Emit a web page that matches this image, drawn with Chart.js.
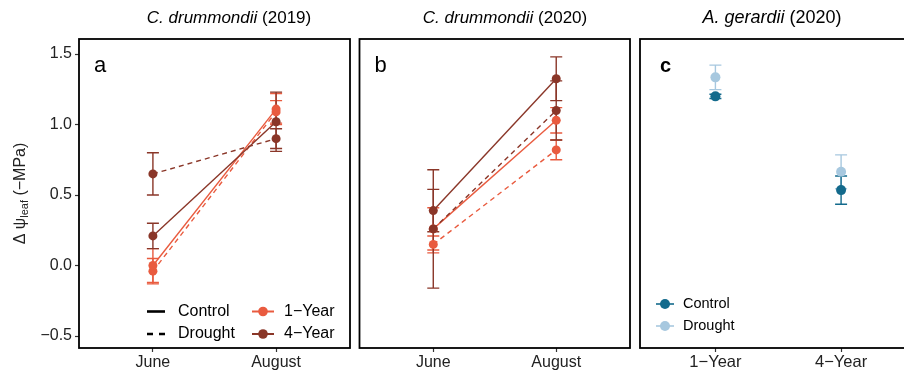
<!DOCTYPE html>
<html><head><meta charset="utf-8">
<script src="https://cdn.jsdelivr.net/npm/chart.js@4"></script>
<style>
html,body{margin:0;padding:0;background:#fff;overflow:hidden;width:904px;height:371px;}
canvas.p{position:absolute;top:0;}
</style></head><body>
<canvas id="ca" class="p" style="left:0px" width="355" height="371"></canvas>
<canvas id="cb" class="p" style="left:355px" width="280" height="371"></canvas>
<canvas id="cc" class="p" style="left:635px" width="290" height="371"></canvas>
<script>
// ---------- data ----------
const months = ['June', 'August'];
const ageGroups = ['1\u2212Year', '4\u2212Year'];
const yTickValues = [-0.5, 0.0, 0.5, 1.0, 1.5];
const yRange = [-0.585, 1.607];

// Panel a: C. drummondii (2019), values at [June, August]
const a1yControl = [0.00, 1.11];
const a1yControlErr = [0.12, 0.11];
const a1yDrought = [-0.04, 1.09];
const a1yDroughtErr = [0.09, 0.08];
const a4yControl = [0.21, 1.02];
const a4yControlErr = [0.09, 0.21];
const a4yDrought = [0.65, 0.90];
const a4yDroughtErr = [0.15, 0.07];

// Panel b: C. drummondii (2020), values at [June, August]
const b1yControl = [0.26, 1.03];
const b1yControlErr = [0.15, 0.09];
const b1yDrought = [0.15, 0.82];
const b1yDroughtErr = [0.06, 0.07];
const b4yControl = [0.39, 1.325];
const b4yControlErr = [0.15, 0.155];
const b4yDrought = [0.26, 1.10];
const b4yDroughtErr = [0.42, 0.21];

// Panel c: A. gerardii (2020), values at [1-Year, 4-Year]
const cControl = [1.20, 0.535];
const cControlErr = [0.015, 0.10];
const cDrought = [1.335, 0.665];
const cDroughtErr = [0.087, 0.12];

// ---------- style ----------
const ONE_YR = '#E95B3F';
const FOUR_YR = '#8A3628';
const CTRL = '#136A8C';
const DRT = '#A7C8DF';
const FONT = '"Liberation Sans", Arial, Helvetica, sans-serif';

function pts(vals) { return vals.map((v, i) => ({x: i + 1, y: v})); }

function lineSet(vals, errs, color, dashed) {
  return {
    data: pts(vals), errors: errs, showLine: true,
    borderColor: color, backgroundColor: color,
    pointBackgroundColor: color, pointBorderWidth: 0,
    pointRadius: 4.5, pointHoverRadius: 4.5,
    borderWidth: 1.4, borderDash: dashed ? [5, 4] : [],
  };
}
function pointSet(vals, errs, color) {
  return {
    data: pts(vals), errors: errs, showLine: false,
    borderColor: color, backgroundColor: color,
    pointBackgroundColor: color, pointBorderWidth: 0,
    pointRadius: 5, pointHoverRadius: 5,
  };
}

const decor = {
  id: 'decor',
  beforeDatasetsDraw(chart) {
    const ctx = chart.ctx, xs = chart.scales.x, ys = chart.scales.y;
    ctx.save();
    chart.data.datasets.slice().reverse().forEach(ds => {
      if (!ds.errors) return;
      ctx.strokeStyle = ds.borderColor;
      ctx.lineWidth = 1.4;
      ctx.setLineDash([]);
      ds.data.forEach((p, i) => {
        const e = ds.errors[i];
        const x = xs.getPixelForValue(p.x);
        const hi = ys.getPixelForValue(p.y + e);
        const lo = ys.getPixelForValue(p.y - e);
        ctx.beginPath();
        ctx.moveTo(x, hi); ctx.lineTo(x, lo);
        ctx.moveTo(x - 6, hi); ctx.lineTo(x + 6, hi);
        ctx.moveTo(x - 6, lo); ctx.lineTo(x + 6, lo);
        ctx.stroke();
      });
    });
    ctx.restore();
  },
  afterDraw(chart, args, o) {
    const ctx = chart.ctx, a = chart.chartArea;
    ctx.save();
    // box
    ctx.strokeStyle = '#000'; ctx.lineWidth = 1.8; ctx.setLineDash([]);
    ctx.strokeRect(a.left, a.top, a.right - a.left, a.bottom - a.top);
    // title
    const ts = o.titleSize;
    ctx.fillStyle = '#000'; ctx.textBaseline = 'middle';
    ctx.font = 'italic ' + ts + 'px ' + FONT;
    const w1 = ctx.measureText(o.titleItalic).width;
    ctx.font = ts + 'px ' + FONT;
    const w2 = ctx.measureText(o.titleRest).width;
    let tx = o.titleX - (w1 + w2) / 2;
    ctx.textAlign = 'left';
    ctx.font = 'italic ' + ts + 'px ' + FONT; ctx.fillText(o.titleItalic, tx, 18);
    ctx.font = ts + 'px ' + FONT; ctx.fillText(o.titleRest, tx + w1, 18);
    // panel letter
    ctx.font = o.letterFont + FONT;
    ctx.fillText(o.letter, a.left + o.letterDx, 66);
    // legends
    if (o.legend === 'ab') {
      ctx.font = '16px ' + FONT;
      const rows = [311.5, 334];
      ctx.strokeStyle = '#000'; ctx.lineWidth = 2.6;
      ctx.beginPath(); ctx.moveTo(a.left + 68, rows[0]); ctx.lineTo(a.left + 86, rows[0]); ctx.stroke();
      ctx.beginPath(); ctx.moveTo(a.left + 68, rows[1]); ctx.lineTo(a.left + 74, rows[1]);
      ctx.moveTo(a.left + 80, rows[1]); ctx.lineTo(a.left + 86, rows[1]); ctx.stroke();
      ctx.fillStyle = '#000';
      ctx.fillText('Control', a.left + 99, rows[0]);
      ctx.fillText('Drought', a.left + 99, rows[1]);
      [[ONE_YR, ageGroups[0]], [FOUR_YR, ageGroups[1]]].forEach((it, k) => {
        const y = rows[k];
        ctx.strokeStyle = it[0]; ctx.fillStyle = it[0]; ctx.lineWidth = 2;
        ctx.beginPath(); ctx.moveTo(a.left + 173, y); ctx.lineTo(a.left + 195, y); ctx.stroke();
        ctx.beginPath(); ctx.arc(a.left + 184, y, 4.8, 0, Math.PI * 2); ctx.fill();
        ctx.fillStyle = '#000';
        ctx.fillText(it[1], a.left + 205, y);
      });
    }
    if (o.legend === 'c') {
      ctx.font = '14.5px ' + FONT;
      [[CTRL, 'Control', 304], [DRT, 'Drought', 326]].forEach(it => {
        ctx.strokeStyle = it[0]; ctx.fillStyle = it[0]; ctx.lineWidth = 1.6;
        ctx.beginPath(); ctx.moveTo(a.left + 16, it[2]); ctx.lineTo(a.left + 34, it[2]); ctx.stroke();
        ctx.beginPath(); ctx.arc(a.left + 25, it[2], 5, 0, Math.PI * 2); ctx.fill();
        ctx.fillStyle = '#000';
        ctx.fillText(it[1], a.left + 43, it[2]);
      });
    }
    // y-axis title
    if (o.yTitle) {
      ctx.translate(20, (a.top + a.bottom) / 2);
      ctx.rotate(-Math.PI / 2);
      ctx.fillStyle = '#222';
      const p1 = '\u0394 \u03C8', p2 = 'leaf', p3 = ' (\u2212MPa)';
      ctx.font = '16px ' + FONT; const q1 = ctx.measureText(p1).width, q3 = ctx.measureText(p3).width;
      ctx.font = '11px ' + FONT; const q2 = ctx.measureText(p2).width;
      let x0 = -(q1 + q2 + q3) / 2;
      ctx.textBaseline = 'alphabetic';
      ctx.font = '16px ' + FONT; ctx.fillText(p1, x0, 5);
      ctx.font = '11px ' + FONT; ctx.fillText(p2, x0 + q1, 8);
      ctx.font = '16px ' + FONT; ctx.fillText(p3, x0 + q1 + q2, 5);
    }
    ctx.restore();
  }
};

function makeChart(id, datasets, xLabels, pad, showY, xFontSize, deco) {
  return new Chart(document.getElementById(id), {
    type: 'scatter',
    data: {datasets},
    plugins: [decor],
    options: {
      responsive: false, animation: false, events: [],
      layout: {padding: pad},
      plugins: {legend: {display: false}, tooltip: {enabled: false}, decor: deco},
      scales: {
        x: {
          type: 'linear', min: 0.4, max: 2.6,
          afterFit: s => { s.height = 23; },
          afterBuildTicks: s => { s.ticks = [{value: 1}, {value: 2}]; },
          grid: {display: true, drawOnChartArea: false, drawTicks: true, tickLength: 4, tickColor: '#333', tickWidth: 1.2},
          border: {display: false},
          ticks: {callback: v => xLabels[Math.round(v) - 1], color: '#222', padding: 1,
                  font: {size: xFontSize, family: FONT}, maxRotation: 0, autoSkip: false}
        },
        y: {
          type: 'linear', min: yRange[0], max: yRange[1], display: showY,
          afterFit: s => { s.width = showY ? 79 : 0; },
          afterBuildTicks: s => { s.ticks = yTickValues.map(v => ({value: v})); },
          grid: {display: true, drawOnChartArea: false, drawTicks: true, tickLength: 4, tickColor: '#333', tickWidth: 1.2},
          border: {display: false},
          ticks: {callback: v => (v < 0 ? '\u2212' : '') + Math.abs(v).toFixed(1), color: '#222', padding: 3,
                  font: {size: 16, family: FONT}}
        }
      }
    }
  });
}

makeChart('ca', [
  lineSet(a4yControl, a4yControlErr, FOUR_YR, false),
  lineSet(a4yDrought, a4yDroughtErr, FOUR_YR, true),
  lineSet(a1yControl, a1yControlErr, ONE_YR, false),
  lineSet(a1yDrought, a1yDroughtErr, ONE_YR, true),
], months, {top: 39, right: 5, left: 0, bottom: 0}, true, 16,
  {titleItalic: 'C. drummondii', titleRest: ' (2019)', titleX: 229, titleSize: 17, letter: 'a', letterFont: '22px ', letterDx: 15, legend: 'ab', yTitle: true});

makeChart('cb', [
  lineSet(b4yControl, b4yControlErr, FOUR_YR, false),
  lineSet(b4yDrought, b4yDroughtErr, FOUR_YR, true),
  lineSet(b1yControl, b1yControlErr, ONE_YR, false),
  lineSet(b1yDrought, b1yDroughtErr, ONE_YR, true),
], months, {top: 39, right: 5, left: 4, bottom: 0}, false, 16,
  {titleItalic: 'C. drummondii', titleRest: ' (2020)', titleX: 150, titleSize: 17, letter: 'b', letterFont: '22px ', letterDx: 15, legend: null, yTitle: false});

makeChart('cc', [
  pointSet(cControl, cControlErr, CTRL),
  pointSet(cDrought, cDroughtErr, DRT),
], ageGroups, {top: 39, right: 8.5, left: 4, bottom: 0}, false, 16.5,
  {titleItalic: 'A. gerardii', titleRest: ' (2020)', titleX: 137, titleSize: 18, letter: 'c', letterFont: 'bold 20px ', letterDx: 20, legend: 'c', yTitle: false});
</script>
</body></html>
